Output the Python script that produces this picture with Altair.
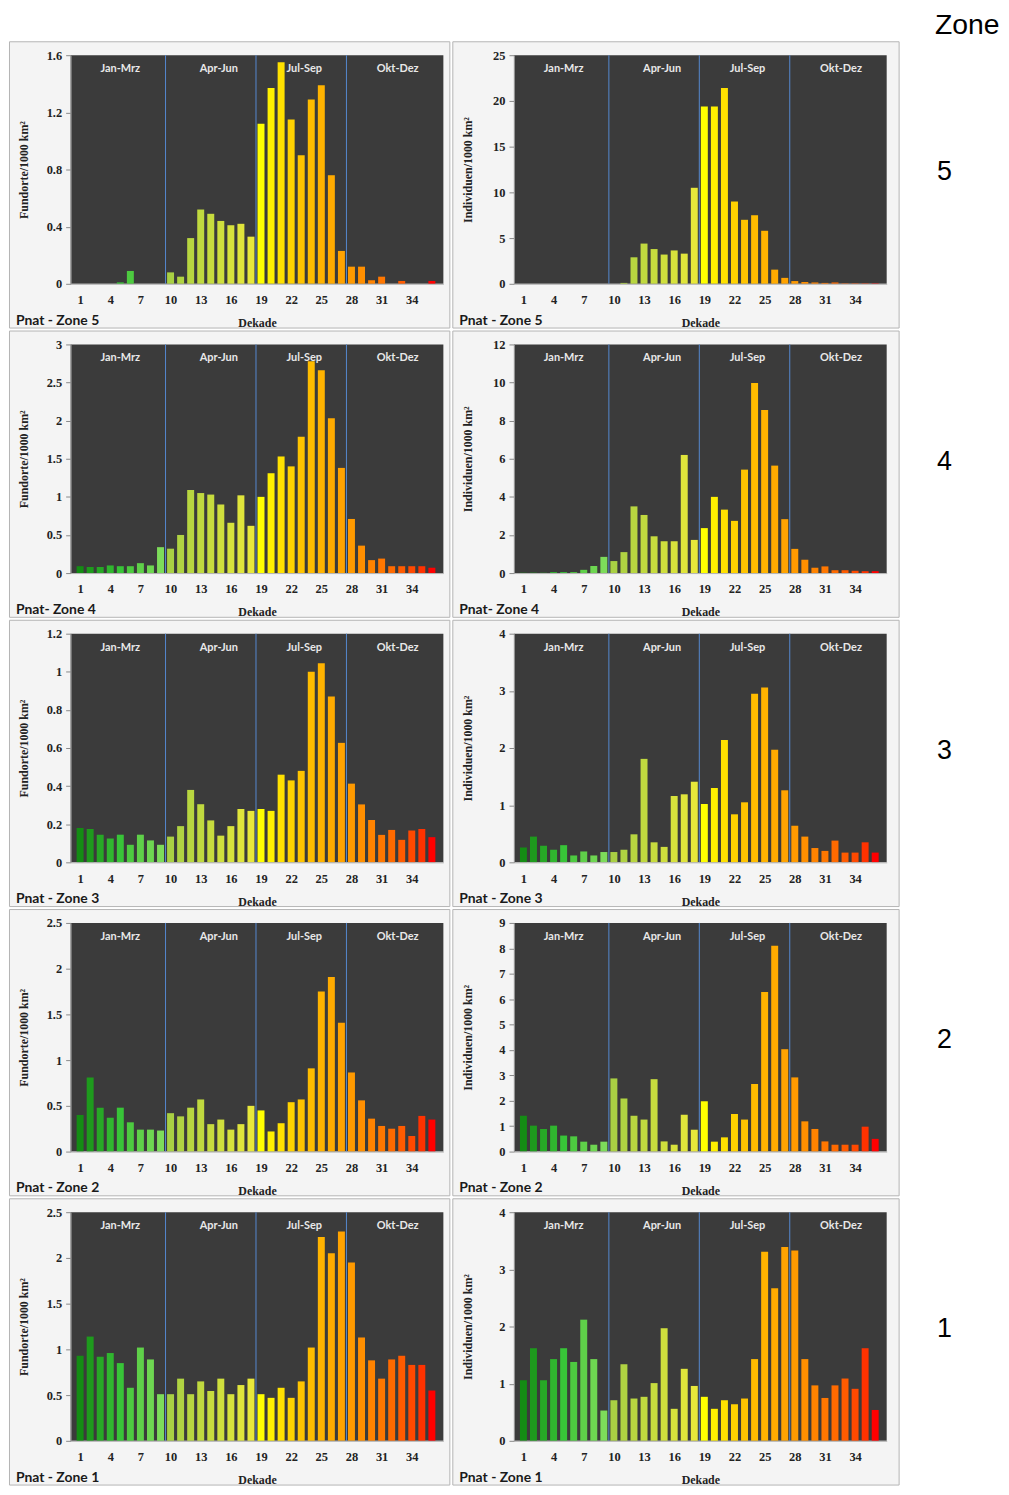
import altair as alt
import pandas as pd

dekade = list(range(1, 37))
tick_values = [1, 4, 7, 10, 13, 16, 19, 22, 25, 28, 31, 34]
quarter_names = ["Jan-Mrz", "Apr-Jun", "Jul-Sep", "Okt-Dez"]
quarter_label_pos = [5.0, 14.8, 23.3, 32.6]
quarter_bounds = [9.5, 18.5, 27.5]
zones = [5, 4, 3, 2, 1]

fundorte_z5 = [0, 0, 0, 0, 0.01, 0.09, 0, 0, 0, 0.08,
               0.05, 0.32, 0.52, 0.49, 0.44, 0.41, 0.42, 0.33, 1.12, 1.37,
               1.55, 1.15, 0.90, 1.29, 1.39, 0.76, 0.23, 0.12, 0.12, 0.025,
               0.05, 0, 0.02, 0, 0, 0.02]
individuen_z5 = [0, 0, 0, 0, 0, 0, 0, 0, 0, 0,
                 0.1, 2.9, 4.4, 3.8, 3.2, 3.65, 3.3, 10.5, 19.4, 19.4,
                 21.4, 9.0, 7.0, 7.5, 5.8, 1.55, 0.65, 0.3, 0.2, 0.15,
                 0.1, 0.15, 0.05, 0.05, 0.05, 0.05]
fundorte_z4 = [0.09, 0.08, 0.08, 0.10, 0.09, 0.09, 0.13, 0.10, 0.34, 0.32,
               0.50, 1.09, 1.05, 1.03, 0.90, 0.66, 1.02, 0.62, 1.00, 1.31,
               1.53, 1.40, 1.79, 2.78, 2.66, 2.03, 1.38, 0.71, 0.36, 0.17,
               0.19, 0.09, 0.09, 0.09, 0.09, 0.07]
individuen_z4 = [0.02, 0.02, 0.02, 0.05, 0.05, 0.05, 0.17, 0.37, 0.85, 0.63,
                 1.1, 3.5, 3.05, 1.93, 1.67, 1.67, 6.2, 1.74, 2.36, 4.0,
                 3.33, 2.74, 5.43, 9.98, 8.56, 5.64, 2.83, 1.27, 0.7, 0.28,
                 0.35, 0.15, 0.15, 0.12, 0.1, 0.1]
fundorte_z3 = [0.18, 0.175, 0.145, 0.125, 0.145, 0.092, 0.145, 0.115, 0.092, 0.135,
               0.19, 0.38, 0.305, 0.22, 0.14, 0.19, 0.28, 0.27, 0.28, 0.27,
               0.46, 0.43, 0.48, 1.0, 1.045, 0.87, 0.627, 0.413, 0.304, 0.222,
               0.144, 0.17, 0.118, 0.167, 0.175, 0.132]
individuen_z3 = [0.26, 0.45, 0.29, 0.22, 0.30, 0.12, 0.19, 0.12, 0.18, 0.18,
                 0.22, 0.49, 1.81, 0.35, 0.27, 1.16, 1.19, 1.41, 1.02, 1.30,
                 2.14, 0.84, 1.05, 2.95, 3.06, 1.97, 1.26, 0.64, 0.45, 0.25,
                 0.20, 0.38, 0.17, 0.17, 0.35, 0.17]
fundorte_z2 = [0.40, 0.81, 0.48, 0.37, 0.48, 0.32, 0.24, 0.24, 0.23, 0.42,
               0.385, 0.48, 0.57, 0.30, 0.35, 0.24, 0.30, 0.50, 0.45, 0.22,
               0.31, 0.54, 0.57, 0.91, 1.75, 1.91, 1.41, 0.865, 0.56, 0.36,
               0.28, 0.25, 0.28, 0.17, 0.39, 0.35]
individuen_z2 = [1.41, 1.02, 0.89, 1.02, 0.63, 0.60, 0.39, 0.27, 0.39, 2.88,
                 2.09, 1.41, 1.26, 2.85, 0.40, 0.27, 1.45, 0.86, 1.98, 0.39,
                 0.56, 1.48, 1.26, 2.66, 6.28, 8.10, 4.03, 2.92, 1.19, 0.89,
                 0.40, 0.27, 0.27, 0.27, 0.98, 0.50]
fundorte_z1 = [0.93, 1.14, 0.92, 0.96, 0.85, 0.58, 1.02, 0.89, 0.51, 0.51,
               0.68, 0.51, 0.65, 0.545, 0.68, 0.51, 0.61, 0.68, 0.51, 0.47,
               0.58, 0.47, 0.65, 1.02, 2.23, 2.05, 2.29, 1.95, 1.13, 0.88,
               0.68, 0.89, 0.93, 0.83, 0.83, 0.55]
individuen_z1 = [1.06, 1.62, 1.06, 1.43, 1.62, 1.38, 2.12, 1.43, 0.53, 0.71,
                 1.34, 0.74, 0.77, 1.01, 1.97, 0.56, 1.26, 0.96, 0.77, 0.56,
                 0.71, 0.64, 0.74, 1.43, 3.31, 2.67, 3.39, 3.33, 1.43, 0.97,
                 0.75, 0.97, 1.09, 0.91, 1.62, 0.54]

fundorte = {5: fundorte_z5, 4: fundorte_z4, 3: fundorte_z3, 2: fundorte_z2, 1: fundorte_z1}
individuen = {5: individuen_z5, 4: individuen_z4, 3: individuen_z3, 2: individuen_z2, 1: individuen_z1}

fund_ticks = {5: [0, 0.4, 0.8, 1.2, 1.6], 4: [0, 0.5, 1, 1.5, 2, 2.5, 3],
              3: [0, 0.2, 0.4, 0.6, 0.8, 1, 1.2], 2: [0, 0.5, 1, 1.5, 2, 2.5],
              1: [0, 0.5, 1, 1.5, 2, 2.5]}
ind_ticks = {5: [0, 5, 10, 15, 20, 25], 4: [0, 2, 4, 6, 8, 10, 12],
             3: [0, 1, 2, 3, 4], 2: [0, 1, 2, 3, 4, 5, 6, 7, 8, 9],
             1: [0, 1, 2, 3, 4]}
panel_labels = {5: "Pnat - Zone 5", 4: "Pnat- Zone 4", 3: "Pnat - Zone 3",
                2: "Pnat - Zone 2", 1: "Pnat - Zone 1"}

color_domain = [1, 5, 9, 10, 18, 19, 23, 28, 32, 36]
color_range = ["#148c14", "#38c438", "#7ddc5a", "#a9d043", "#e8e83a",
               "#ffff00", "#ffc400", "#ff9a00", "#ff6a00", "#ff0000"]

W, H = 375, 230
SERIF = "Liberation Serif"
SANS = "Lato"
one = pd.DataFrame({"k": [0]})


def make_panel(values, ticks, ytitle, label, right_margin):
    df = pd.DataFrame({"dekade": dekade, "wert": values})
    xscale = alt.Scale(domain=[0.55, 36.65], nice=False, zero=False)
    xaxis = alt.Axis(values=tick_values, title="Dekade", labelFont=SERIF,
                     labelFontWeight="bold", labelFontSize=12.5, labelColor="#222222",
                     labelPadding=10, ticks=False, domain=True, domainColor="#b0b0b0",
                     grid=False, titleFont=SERIF, titleFontWeight="bold", titleFontSize=12,
                     titleColor="#222222", titleX=W / 2, titleY=39, titleBaseline="middle",
                     zindex=1, labelFlush=False, labelOverlap=False)
    x_enc = alt.X("dekade:Q", scale=xscale, axis=xaxis)
    yaxis = alt.Axis(values=ticks, format=".2~f", title=ytitle, labelFont=SERIF,
                     labelFontWeight="bold", labelFontSize=12.5, labelColor="#222222",
                     tickSize=5, tickColor="#888888", domainColor="#999999", labelPadding=4,
                     grid=False, titleX=-47, titleY=H / 2, titleAngle=270, titleAlign="center",
                     titleBaseline="middle", titleFont=SERIF, titleFontWeight="bold",
                     titleFontSize=12, titleColor="#222222", zindex=1, labelOverlap=False)
    y_enc = alt.Y("wert:Q", scale=alt.Scale(domain=[0, ticks[-1]], nice=False), axis=yaxis)

    frame = alt.Chart(one).mark_rect(fill="#f4f4f4", stroke="#b4b4b4", strokeWidth=1).encode(
        x=alt.value(-61.5), x2=alt.value(W + right_margin - 0.5),
        y=alt.value(-13.5), y2=alt.value(H + 44.5))
    plotbg = alt.Chart(one).mark_rect(fill="#3b3b3b").encode(
        x=alt.value(0), x2=alt.value(W), y=alt.value(0), y2=alt.value(H))
    bars = alt.Chart(df).mark_bar(size=7).encode(
        x=x_enc, y=y_enc,
        color=alt.Color("dekade:Q", scale=alt.Scale(domain=color_domain, range=color_range),
                        legend=None))
    rules = alt.Chart(pd.DataFrame({"dekade": quarter_bounds})).mark_rule(
        color="#5588d0", strokeWidth=1).encode(x=x_enc)
    qtext = alt.Chart(pd.DataFrame({"dekade": quarter_label_pos, "name": quarter_names})).mark_text(
        color="#e8e8e8", font=SANS, fontWeight="bold", fontSize=11, baseline="middle").encode(
        x=x_enc, y=alt.value(14), text="name:N")
    ptext = alt.Chart(one).mark_text(align="left", baseline="middle", font=SANS,
                                     fontWeight="bold", fontSize=14, color="#1a1a1a").encode(
        x=alt.value(-55), y=alt.value(H + 37), text=alt.value(label))
    return alt.layer(frame, plotbg, bars, rules, qtext, ptext).properties(width=W, height=H)


def zone_label(z, with_header):
    layers = [alt.Chart(one).mark_text(font="Liberation Sans", fontSize=27, color="#000000",
                                       align="center", baseline="middle").encode(
        x=alt.value(43), y=alt.value(118), text=alt.value(str(z)))]
    if with_header:
        layers.append(alt.Chart(one).mark_text(font="Liberation Sans", fontSize=28.5,
                                               color="#000000", align="center",
                                               baseline="alphabetic").encode(
            x=alt.value(66), y=alt.value(-21), text=alt.value("Zone")))
    return alt.layer(*layers).properties(width=99, height=H)


cells = []
for i, z in enumerate(zones):
    cells.append(make_panel(fundorte[z], fund_ticks[z], "Fundorte/1000 km²", panel_labels[z], 7))
    cells.append(make_panel(individuen[z], ind_ticks[z], "Individuen/1000 km²", panel_labels[z], 13))
    cells.append(zone_label(z, i == 0))

chart = alt.concat(*cells, columns=3, spacing=0, align="each").properties(
    padding={"top": -2, "left": 0, "right": 0, "bottom": 0}).configure_view(
    stroke="transparent")

chart.save("out.html", embed_options={"renderer": "svg", "actions": False})
